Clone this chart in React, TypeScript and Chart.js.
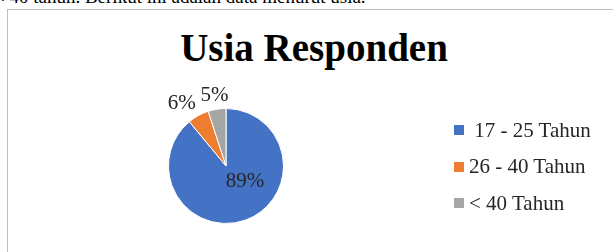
import React, { useEffect, useRef } from "react";
import { Chart, registerables } from "chart.js";

Chart.register(...registerables);

const categories = ["17 - 25 Tahun", "26 - 40 Tahun", "< 40 Tahun"];
const values = [89, 6, 5];
const percentLabels = ["89%", "6%", "5%"];
const colors = ["#4472C4", "#ED7D31", "#A5A5A5"];
const legendNames = [" 17 - 25 Tahun", "26 - 40 Tahun", "< 40 Tahun"];
const chartTitle = "Usia Responden";
const introText = "< 40 tahun. Berikut ini adalah data menurut usia.";

// label placement relative to arc centre, in units of the radius
const labelOffsets = [
  { dx: 0.33, dy: 0.27 },
  { dx: -0.77, dy: -1.09 },
  { dx: -0.2, dy: -1.23 },
];

const labelPlugin = {
  id: "pctLabels",
  afterDatasetsDraw(chart: any) {
    const meta = chart.getDatasetMeta(0);
    const ctx = chart.ctx;
    ctx.save();
    ctx.font = "21px 'Liberation Serif', 'Times New Roman', serif";
    ctx.fillStyle = "#262626";
    ctx.textAlign = "center";
    ctx.textBaseline = "middle";
    meta.data.forEach((arc: any, i: number) => {
      const r = arc.outerRadius;
      const o = labelOffsets[i];
      ctx.fillText(percentLabels[i], arc.x + o.dx * r, arc.y + o.dy * r);
    });
    ctx.restore();
  },
};

export default function App() {
  const ref = useRef<HTMLCanvasElement>(null);
  useEffect(() => {
    if (!ref.current) return;
    const chart = new Chart(ref.current, {
      type: "pie",
      data: {
        labels: categories,
        datasets: [
          {
            data: values,
            backgroundColor: colors,
            borderColor: "#ffffff",
            borderWidth: 1,
          },
        ],
      },
      options: {
        responsive: false,
        animation: false,
        devicePixelRatio: 1,
        layout: { padding: { left: 168, right: 329, top: 108, bottom: 28 } },
        plugins: {
          legend: { display: false },
          tooltip: { enabled: false },
          title: { display: false },
        },
      },
      plugins: [labelPlugin],
    });
    return () => chart.destroy();
  }, []);

  const serif = "'Liberation Serif', 'Times New Roman', serif";

  return (
    <div
      style={{
        position: "fixed",
        left: 0,
        top: 0,
        width: 613,
        height: 252,
        overflow: "hidden",
        background: "#fff",
        fontFamily: serif,
      }}
    >
      <div
        style={{
          position: "absolute",
          left: -6,
          top: -13,
          fontSize: 19,
          lineHeight: "19px",
          whiteSpace: "nowrap",
          color: "#000",
        }}
      >
        {introText}
      </div>
      <div
        style={{
          position: "absolute",
          left: 7,
          top: 9,
          width: 700,
          height: 400,
          border: "1px solid #bfbfbf",
          boxSizing: "border-box",
        }}
      />
      <div
        style={{
          position: "absolute",
          left: 114,
          width: 400,
          top: 26,
          textAlign: "center",
          fontSize: 39,
          lineHeight: "44px",
          fontWeight: "bold",
          color: "#000",
          whiteSpace: "nowrap",
        }}
      >
        {chartTitle}
      </div>
      <canvas
        ref={ref}
        width={613}
        height={252}
        style={{ position: "absolute", left: 0, top: 0, width: 613, height: 252 }}
      />
      {legendNames.map((name, i) => (
        <div
          key={name}
          style={{
            position: "absolute",
            left: 454,
            top: 119 + i * 36.5,
            height: 22,
            display: "flex",
            alignItems: "center",
            whiteSpace: "pre",
            fontSize: 21,
            color: "#262626",
          }}
        >
          <span
            style={{
              display: "inline-block",
              width: 10,
              height: 10,
              background: colors[i],
              marginRight: 5,
            }}
          />
          <span>{name}</span>
        </div>
      ))}
    </div>
  );
}
